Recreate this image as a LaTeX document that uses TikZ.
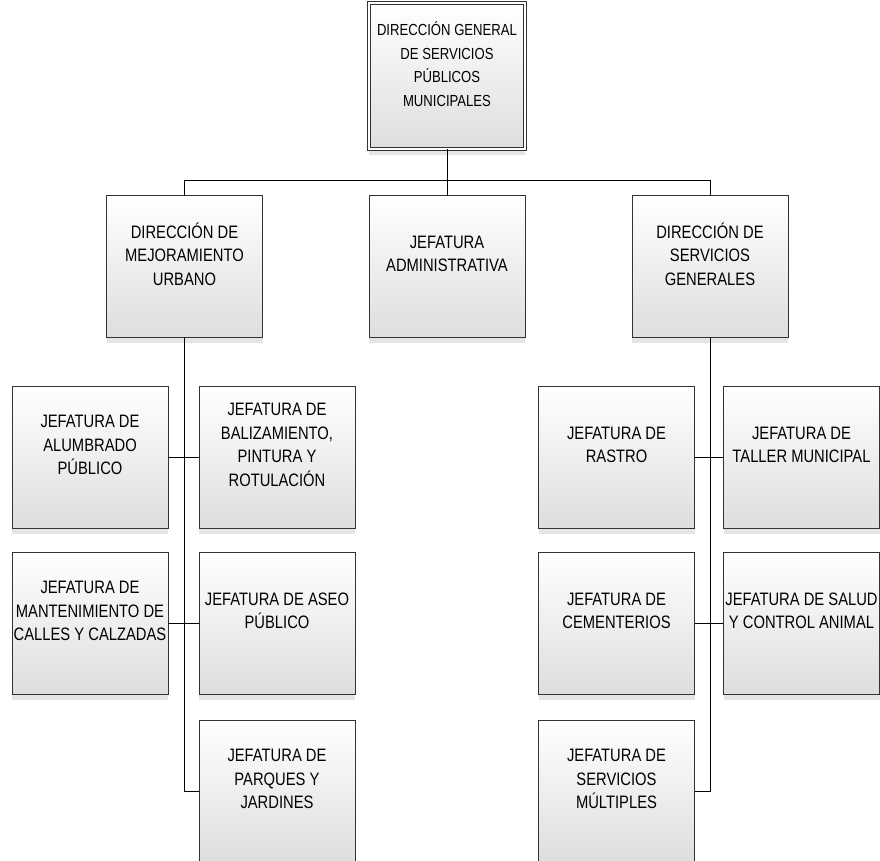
\documentclass[tikz,border=0pt]{standalone}
\usepackage{fontspec}
\setmainfont[FakeStretch=0.82]{Liberation Sans}
\usetikzlibrary{shadows}

\begin{document}
\begin{tikzpicture}[x=1pt, y=-1pt,
        box/.style={draw=black!80, line width=0.8pt, top color=white, bottom color=black!13,
            minimum width=156pt, minimum height=142pt, inner sep=0pt,
            drop shadow={shadow xshift=0pt, shadow yshift=-6pt, fill=black!10, opacity=1}},
        txt/.style={align=center, text=black, font=\fontsize{18}{23.5}\selectfont, yshift=12pt},
        toptxt/.style={txt, font=\fontsize{16}{23.5}\selectfont, yshift=0pt},
        line/.style={line width=0.8pt}]
    \useasboundingbox (0,0) rectangle (880,861);

    \node[box, minimum height=146pt, double=white, double distance=2.5pt,
        label={[toptxt]center:{DIRECCIÓN GENERAL\\DE SERVICIOS\\PÚBLICOS\\MUNICIPALES}}] (dgsp) at (447,76) {};

    \node[box, label={[txt]center:{DIRECCIÓN DE\\MEJORAMIENTO\\URBANO}}] (dmu) at (184.5,266) {};
    \node[box, label={[txt]center:{JEFATURA\\ADMINISTRATIVA}}] (jadm) at (447,266) {};
    \node[box, label={[txt]center:{DIRECCIÓN DE\\SERVICIOS\\GENERALES}}] (dsg) at (710,266) {};

    \node[box, label={[txt]center:{JEFATURA DE\\ALUMBRADO\\PÚBLICO}}] (jap) at (90,457) {};
    \node[box, label={[txt]center:{JEFATURA DE\\BALIZAMIENTO,\\PINTURA Y\\ROTULACIÓN}}] (jbpr) at (277,457) {};
    \node[box, label={[txt]center:{JEFATURA DE\\MANTENIMIENTO DE\\CALLES Y CALZADAS}}] (jmcc) at (90,623) {};
    \node[box, label={[txt]center:{JEFATURA DE ASEO\\PÚBLICO}}] (jasp) at (277,623) {};
    \node[box, label={[txt]center:{JEFATURA DE\\PARQUES Y\\JARDINES}}] (jpj) at (277,791) {};

    \node[box, label={[txt]center:{JEFATURA DE\\RASTRO}}] (jr) at (616.5,457) {};
    \node[box, label={[txt]center:{JEFATURA DE\\TALLER MUNICIPAL}}] (jtm) at (801.5,457) {};
    \node[box, label={[txt]center:{JEFATURA DE\\CEMENTERIOS}}] (jc) at (616.5,623) {};
    \node[box, label={[txt]center:{JEFATURA DE SALUD\\Y CONTROL ANIMAL}}] (jsca) at (801.5,623) {};
    \node[box, label={[txt]center:{JEFATURA DE\\SERVICIOS\\MÚLTIPLES}}] (jsm) at (616.5,791) {};

    % conectores
    \draw[line] (dgsp.south) -- ++(0,31) -| (dmu.north);
    \draw[line] (dgsp.south) -- ++(0,31) -| (dsg.north);
    \draw[line] (dgsp.south) -- (jadm.north);

    \draw[line] (dmu.south) |- (jpj.west);
    \draw[line] (jap) -- (jbpr);
    \draw[line] (jmcc) -- (jasp);

    \draw[line] (dsg.south) |- (jsm.east);
    \draw[line] (jr) -- (jtm);
    \draw[line] (jc) -- (jsca);
\end{tikzpicture}
\end{document}
